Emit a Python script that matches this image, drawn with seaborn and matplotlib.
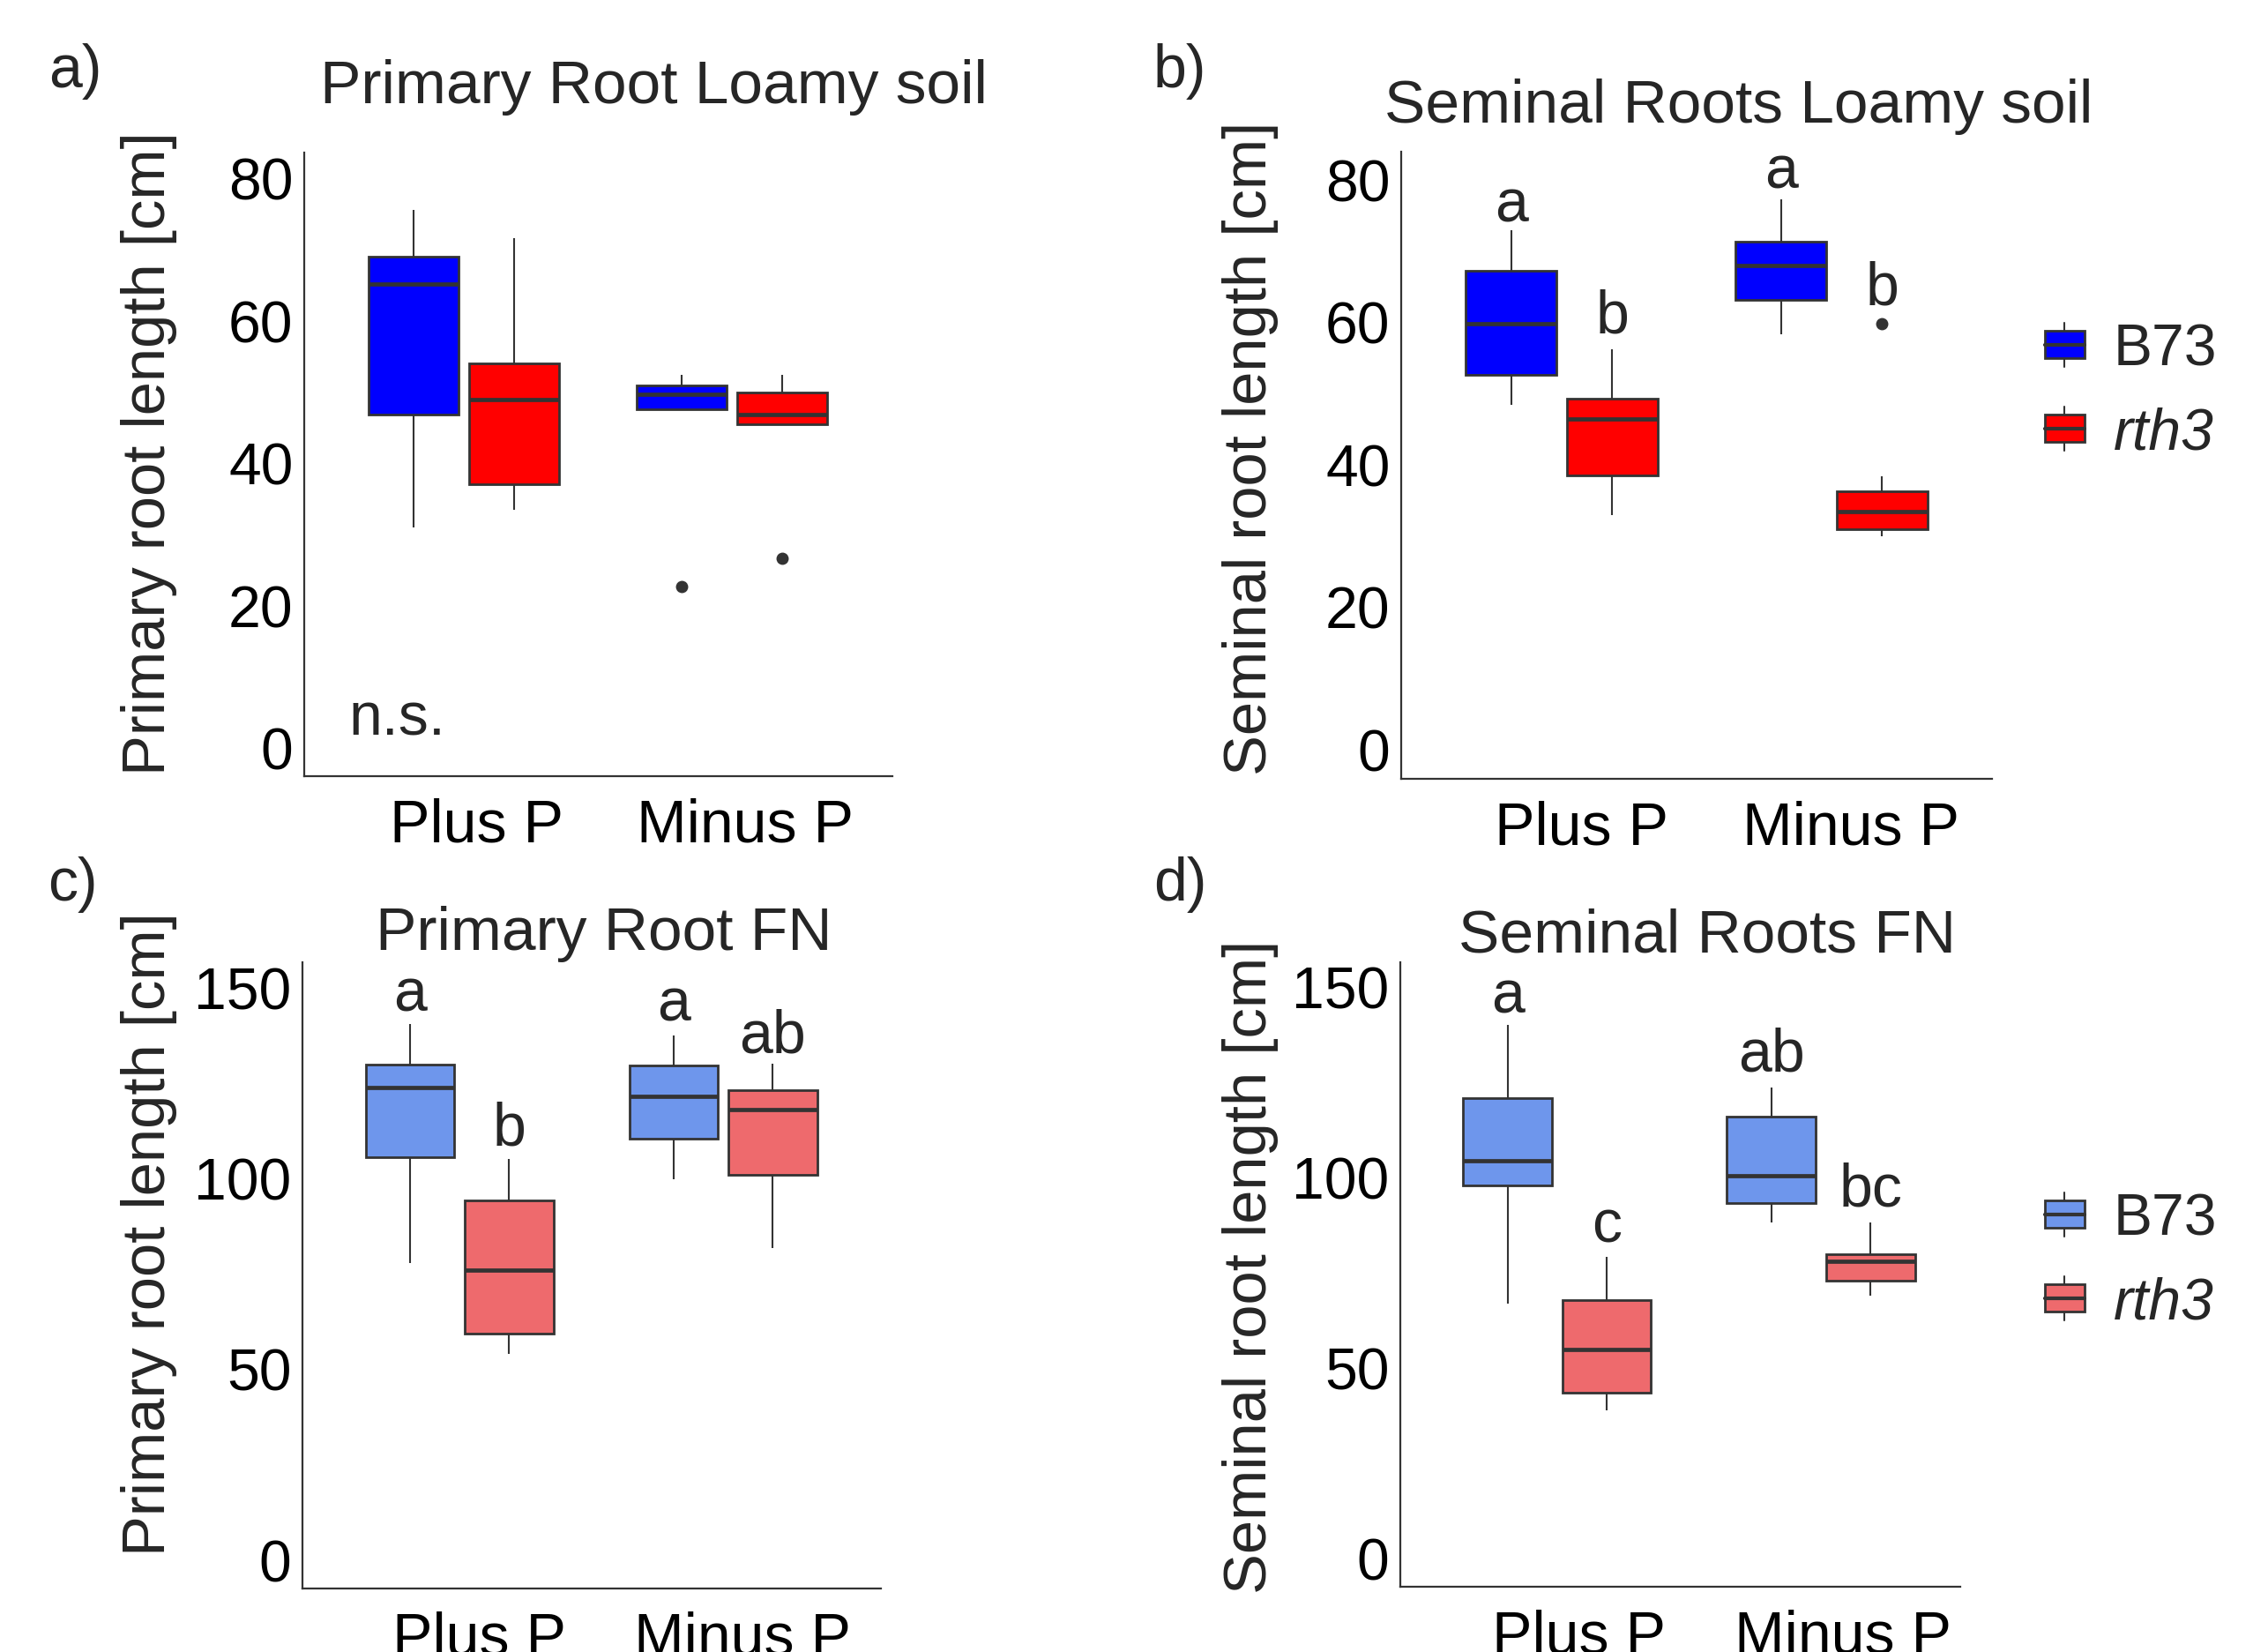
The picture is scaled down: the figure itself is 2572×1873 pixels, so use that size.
import pandas as pd
import matplotlib
matplotlib.use('Agg')
import matplotlib.pyplot as plt
import seaborn as sns
from matplotlib.legend_handler import HandlerBase
from matplotlib.patches import Rectangle, Patch
from matplotlib.lines import Line2D
from matplotlib.transforms import ScaledTranslation

# groups, in the order the boxes are drawn
conditions = ['Plus P', 'Plus P', 'Minus P', 'Minus P']
genotypes = ['B73', 'rth3', 'B73', 'rth3']

# a) primary root, loamy soil: whisker low, Q1, median, Q3, whisker high, outliers
a_low = [31.1, 33.6, 47.7, 45.6]
a_q1 = [46.9, 37.2, 47.7, 45.6]
a_med = [65.2, 49.0, 49.8, 46.9]
a_q3 = [69.1, 54.1, 51.0, 50.0]
a_high = [75.7, 71.7, 52.5, 52.5]
a_out = [[], [], [22.8], [26.8]]

# b) seminal roots, loamy soil
b_low = [48.5, 32.9, 58.3, 30.0]
b_q1 = [52.7, 38.5, 63.2, 31.0]
b_med = [59.8, 46.4, 68.0, 33.4]
b_q3 = [67.3, 49.3, 71.4, 36.3]
b_high = [73.0, 56.3, 77.3, 38.4]
b_out = [[], [], [], [59.8]]
b_letters = ['a', 'b', 'a', 'b']
b_letter_y = [74.1, 58.5, 78.8, 62.5]

# c) primary root, FN
c_low = [78.0, 54.0, 99.9, 81.8]
c_q1 = [105.7, 59.5, 110.5, 101.1]
c_med = [124.0, 76.0, 121.5, 118.2]
c_q3 = [129.8, 94.2, 129.6, 123.1]
c_high = [140.5, 105.1, 137.6, 130.1]
c_out = [[], [], [], []]
c_letters = ['a', 'b', 'a', 'ab']
c_letter_y = [143.8, 108.8, 141.3, 133.0]

# d) seminal roots, FN
d_low = [67.2, 39.1, 88.4, 69.1]
d_q1 = [98.2, 43.8, 93.4, 73.2]
d_med = [104.6, 55.0, 100.6, 78.3]
d_q3 = [121.0, 68.1, 116.2, 80.1]
d_high = [140.2, 79.4, 123.9, 88.4]
d_out = [[], [], [], []]
d_letters = ['a', 'c', 'ab', 'bc']
d_letter_y = [143.4, 83.1, 128.1, 92.8]

loam_colors = ['#0000FF', '#FF0000']
fn_colors = ['#6E96EC', '#EE6A6D']
EDGE = '#333333'
FS = 48


def make_frame(low, q1, med, q3, high, out):
    # nine values per group so that numpy quartiles land exactly on q1/median/q3
    rows = []
    for i in range(4):
        vals = [low[i], low[i], q1[i], q1[i], med[i], q3[i], q3[i], high[i], high[i]]
        for o in out[i]:
            if o < q1[i]:
                vals[0] = o
            else:
                vals[-1] = o
        for v in vals:
            rows.append({'condition': conditions[i], 'genotype': genotypes[i], 'length': v})
    return pd.DataFrame(rows)


class BoxKey(HandlerBase):
    def create_artists(self, legend, orig, xdescent, ydescent, width, height, fontsize, trans):
        x0, y0 = -xdescent, -ydescent
        cx = x0 + width / 2
        whisk = Line2D([cx, cx], [y0 - height * 0.3, y0 + height * 1.3], color=EDGE, lw=1.5, transform=trans)
        rect = Rectangle((x0, y0), width, height, facecolor=orig.get_facecolor(),
                         edgecolor=EDGE, lw=2, transform=trans)
        med = Line2D([x0, x0 + width], [y0 + height / 2] * 2, color=EDGE, lw=3, transform=trans)
        return [whisk, rect, med]


sns.set_style('white')
plt.rcParams['font.family'] = ['Liberation Sans', 'DejaVu Sans']

fig = plt.figure(figsize=(25.72, 18.73), dpi=100)
W, H = 2572, 1873

panels = [
    dict(stats=(a_low, a_q1, a_med, a_q3, a_high, a_out), colors=loam_colors,
         rect=[0.1341, 0.5302, 0.2594, 0.3774], xlim=(-0.595, 1.599), ylim=(-3.84, 83.7),
         yticks=[0, 20, 40, 60, 80], title='Primary Root Loamy soil', tpos=(741, 117),
         tag='a)', tagpos=(85, 99), ylabel='Primary root length [cm]', ypos=(169, 514),
         shift=15, letters=None, letter_y=None),
    dict(stats=(b_low, b_q1, b_med, b_q3, b_high, b_out), colors=loam_colors,
         rect=[0.6178, 0.5286, 0.2605, 0.3796], xlim=(-0.595, 1.595), ylim=(-4.07, 84.0),
         yticks=[0, 20, 40, 60, 80], title='Seminal Roots Loamy soil', tpos=(1972, 139),
         tag='b)', tagpos=(1338, 99), ylabel='Seminal root length [cm]', ypos=(1418, 508),
         shift=22, letters=b_letters, letter_y=b_letter_y),
    dict(stats=(c_low, c_q1, c_med, c_q3, c_high, c_out), colors=fn_colors,
         rect=[0.1334, 0.0384, 0.2551, 0.3791], xlim=(-0.595, 1.599), ylim=(-7.4, 156.7),
         yticks=[0, 50, 100, 150], title='Primary Root FN', tpos=(685, 1077),
         tag='c)', tagpos=(82, 1021), ylabel='Primary root length [cm]', ypos=(169, 1399),
         shift=22, letters=c_letters, letter_y=c_letter_y),
    dict(stats=(d_low, d_q1, d_med, d_q3, d_high, d_out), colors=fn_colors,
         rect=[0.6174, 0.0395, 0.2469, 0.3780], xlim=(-0.595, 1.528), ylim=(-7.2, 156.7),
         yticks=[0, 50, 100, 150], title='Seminal Roots FN', tpos=(1936, 1079),
         tag='d)', tagpos=(1338, 1021), ylabel='Seminal root length [cm]', ypos=(1418, 1436),
         shift=25, letters=d_letters, letter_y=d_letter_y),
]

for p in panels:
    ax = fig.add_axes(p['rect'])
    df = make_frame(*p['stats'])
    sns.boxplot(data=df, x='condition', y='length', hue='genotype',
                order=['Plus P', 'Minus P'], hue_order=['B73', 'rth3'],
                palette=p['colors'], saturation=1, width=0.75, gap=0.1, whis=1.5,
                linecolor=EDGE, linewidth=2, showcaps=False,
                whiskerprops={'linewidth': 1.5},
                flierprops={'marker': 'o', 'markersize': 9, 'markerfacecolor': EDGE,
                            'markeredgecolor': EDGE},
                legend=False, ax=ax)
    # thicker median bars, like the ggplot boxes
    for ln in ax.lines:
        xd, yd = ln.get_xdata(), ln.get_ydata()
        if len(xd) == 2 and yd[0] == yd[1] and xd[0] != xd[1]:
            ln.set_linewidth(3.4)
            ln.set_color(EDGE)

    ax.set_xlim(*p['xlim'])
    ax.set_ylim(*p['ylim'])
    ax.set_yticks(p['yticks'])
    ax.set_xlabel('')
    ax.set_ylabel('')
    sns.despine(ax=ax)
    for side in ['left', 'bottom']:
        ax.spines[side].set_color(EDGE)
        ax.spines[side].set_linewidth(1.6)
    ax.tick_params(axis='both', length=5, width=1.5, color=EDGE, labelcolor='black')
    ax.tick_params(axis='y', labelsize=FS - 0.5, pad=4)
    ax.tick_params(axis='x', labelsize=FS + 1, pad=13)
    offset = ScaledTranslation(p['shift'] / 100, 0, fig.dpi_scale_trans)
    for lab in ax.get_xticklabels():
        lab.set_transform(lab.get_transform() + offset)

    if p['letters'] is not None:
        xs = [-0.1875, 0.1875, 0.8125, 1.1875]
        for x, s, y in zip(xs, p['letters'], p['letter_y']):
            ax.text(x, y, s, ha='center', va='baseline', fontsize=FS + 1)
    else:
        ax.text(-0.43, 1.85, 'n.s.', ha='left', va='baseline', fontsize=FS + 1)

    fig.text(p['tpos'][0] / W, 1 - p['tpos'][1] / H, p['title'], ha='center', va='baseline', fontsize=FS + 2)
    fig.text(p['tagpos'][0] / W, 1 - p['tagpos'][1] / H, p['tag'], ha='center', va='baseline', fontsize=FS + 1)
    fig.text(p['ypos'][0] / W, 1 - p['ypos'][1] / H, p['ylabel'], ha='center', va='center',
             rotation=90, fontsize=FS + 1.5)

# legends for the right-hand panels
for cols, ycen in [(loam_colors, 445), (fn_colors, 1431)]:
    handles = [Patch(facecolor=c) for c in cols]
    leg = fig.legend(handles, ['B73', 'rth3'], loc='center left',
                     bbox_to_anchor=(2319 / W, 1 - ycen / H), frameon=False,
                     fontsize=FS - 0.5, handlelength=45 / 66, handleheight=23 / 66,
                     handletextpad=0.5, labelspacing=0.5, borderpad=0, borderaxespad=0,
                     handler_map={Patch: BoxKey()})
    leg.get_texts()[1].set_style('italic')

fig.savefig('out.png', dpi=100)
